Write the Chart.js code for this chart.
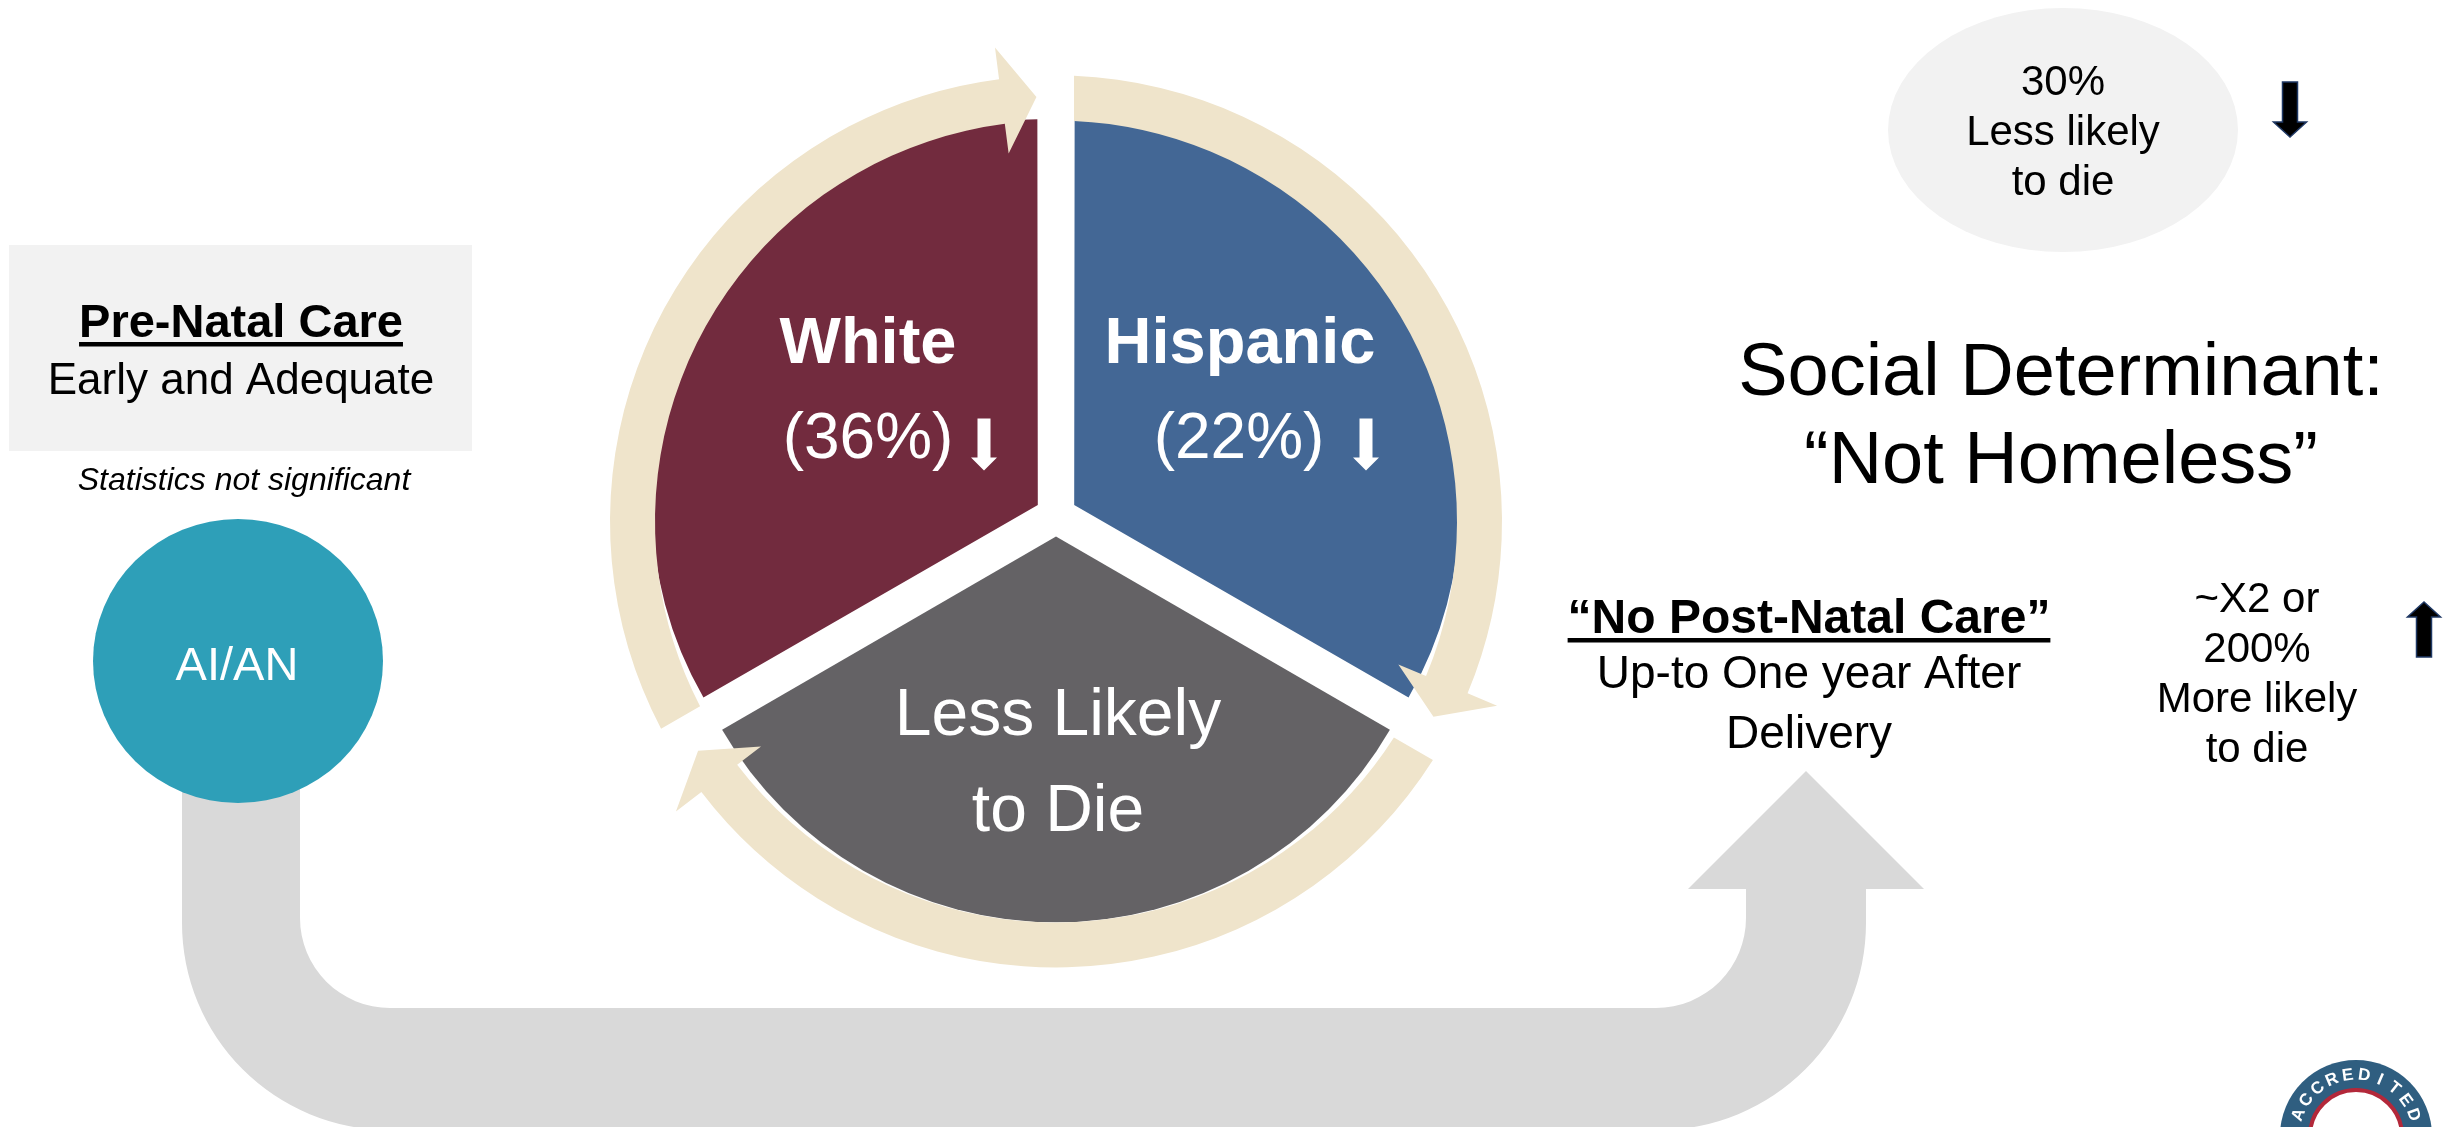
<!DOCTYPE html>
<html>
<head>
<meta charset="utf-8">
<script src="https://cdn.jsdelivr.net/npm/chart.js@4.4.1/dist/chart.umd.min.js"></script>
<style>
  html, body { margin: 0; padding: 0; background: #fff; overflow: hidden; }
  #wrap { position: relative; width: 2453px; height: 1127px; }
</style>
</head>
<body>
<div id="wrap"><canvas id="cycle"></canvas></div>
<script>
/* ================================
   Data
   ================================ */
const sliceLabels = ["White", "Hispanic", "Less Likely to Die"];
const sliceShares = [1, 1, 1];
const slicePercents = ["(36%)", "(22%)", ""];
const sliceColors = ["#722B3E", "#436795", "#646265"];

const preNatalLines = ["Pre-Natal Care", "Early and Adequate"];
const preNatalNote = "Statistics not significant";
const groupLabel = "AI/AN";
const homelessStat = ["30%", "Less likely", "to die"];
const determinantLines = ["Social Determinant:", "\u201CNot Homeless\u201D"];
const postNatalLines = ["\u201CNo Post-Natal Care\u201D", "Up-to One year After", "Delivery"];
const postNatalStat = ["~X2 or", "200%", "More likely", "to die"];

const FONT = "'Liberation Sans', Arial, sans-serif";
const CREAM = "#EFE4CB";

/* ================================
   Drawing helpers
   ================================ */
function text(ctx, str, x, y, size, opts = {}) {
  ctx.save();
  ctx.font = `${opts.style || ""} ${opts.weight || ""} ${size}px ${FONT}`;
  ctx.fillStyle = opts.color || "#000";
  ctx.textAlign = opts.align || "center";
  ctx.textBaseline = "alphabetic";
  ctx.fillText(str, x, y);
  if (opts.underline) {
    const w = ctx.measureText(str).width;
    ctx.fillRect(x - w / 2, y + 5, w, 4.5);
  }
  ctx.restore();
}

function arrow(ctx, x, yStart, yBase, yTip, shaftHalf, headHalf, fill, stroke) {
  ctx.save();
  ctx.beginPath();
  ctx.moveTo(x - shaftHalf, yStart);
  ctx.lineTo(x + shaftHalf, yStart);
  ctx.lineTo(x + shaftHalf, yBase);
  ctx.lineTo(x + headHalf, yBase);
  ctx.lineTo(x, yTip);
  ctx.lineTo(x - headHalf, yBase);
  ctx.lineTo(x - shaftHalf, yBase);
  ctx.closePath();
  ctx.fillStyle = fill;
  ctx.fill();
  if (stroke) {
    ctx.strokeStyle = stroke;
    ctx.lineWidth = 1.5;
    ctx.stroke();
  }
  ctx.restore();
}

function polar(cx, cy, a, r) {
  return [cx + Math.cos(a) * r, cy + Math.sin(a) * r];
}

// cream ring segment ending in an arrowhead, following one slice
function ringArrow(ctx, cx, cy, a0, a1) {
  const rIn = 401, rOut = 446, rMid = 425;
  const aBarb = a1 - 0.128;
  const aTip = a1 - 0.046;
  ctx.beginPath();
  ctx.arc(cx, cy, rOut, a0 + 18 / rOut, aBarb);
  ctx.lineTo(...polar(cx, cy, aBarb, rOut + 32));
  ctx.lineTo(...polar(cx, cy, aTip, rMid));
  ctx.lineTo(...polar(cx, cy, aBarb, rIn - 30));
  ctx.lineTo(...polar(cx, cy, aBarb, rIn));
  ctx.arc(cx, cy, rIn, aBarb, a0 + 18 / rIn, true);
  ctx.closePath();
  ctx.fill();
}

/* ================================
   Background shapes
   ================================ */
const backdropPlugin = {
  id: "backdrop",
  beforeDatasetsDraw(chart) {
    const ctx = chart.ctx;
    ctx.save();

    // big U-shaped arrow
    ctx.fillStyle = "#D9D9D9";
    ctx.beginPath();
    ctx.moveTo(182, 700);
    ctx.arcTo(182, 1130, 389, 1130, 207);
    ctx.arcTo(1866, 1130, 1866, 920, 207);
    ctx.lineTo(1866, 889);
    ctx.lineTo(1924, 889);
    ctx.lineTo(1806, 771);
    ctx.lineTo(1688, 889);
    ctx.lineTo(1746, 889);
    ctx.arcTo(1746, 1008, 1656, 1008, 90);
    ctx.arcTo(300, 1008, 300, 918, 90);
    ctx.lineTo(300, 700);
    ctx.closePath();
    ctx.fill();

    // pre-natal box
    ctx.fillStyle = "#F2F2F2";
    ctx.fillRect(9, 245, 463, 206);

    // AI/AN circle
    ctx.fillStyle = "#2E9FB8";
    ctx.beginPath();
    ctx.ellipse(238, 661, 145, 142, 0, 0, Math.PI * 2);
    ctx.fill();

    // homeless ellipse
    ctx.fillStyle = "#F2F2F2";
    ctx.beginPath();
    ctx.ellipse(2063, 130, 175, 122, 0, 0, Math.PI * 2);
    ctx.fill();

    // accreditation seal
    ctx.fillStyle = "#2F5E80";
    ctx.beginPath();
    ctx.arc(2356, 1136, 76, 0, Math.PI * 2);
    ctx.fill();
    ctx.fillStyle = "#fff";
    ctx.beginPath();
    ctx.arc(2356, 1136, 46, 0, Math.PI * 2);
    ctx.fill();
    ctx.strokeStyle = "#B3283A";
    ctx.lineWidth = 4;
    ctx.beginPath();
    ctx.arc(2356, 1136, 46, 0, Math.PI * 2);
    ctx.stroke();
    ctx.font = `bold 17px ${FONT}`;
    ctx.fillStyle = "#fff";
    ctx.textAlign = "center";
    ctx.textBaseline = "middle";
    const word = "ACCREDITED";
    const aStart = -Math.PI * 0.93, aEnd = -Math.PI * 0.07;
    for (let i = 0; i < word.length; i++) {
      const a = aStart + (aEnd - aStart) * (i + 0.5) / word.length;
      ctx.save();
      ctx.translate(2356 + Math.cos(a) * 61, 1136 + Math.sin(a) * 61);
      ctx.rotate(a + Math.PI / 2);
      ctx.fillText(word[i], 0, 0);
      ctx.restore();
    }

    ctx.restore();
  },

  afterDatasetsDraw(chart) {
    const ctx = chart.ctx;
    const arcs = chart.getDatasetMeta(0).data;
    const cx = arcs[0].x, cy = arcs[0].y;

    // cycle ring with arrowheads
    ctx.save();
    ctx.fillStyle = CREAM;
    arcs.forEach((arc) => ringArrow(ctx, cx, cy + 6, arc.startAngle, arc.endAngle));
    ctx.restore();

    // slice labels
    const white = { color: "#fff" };
    text(ctx, sliceLabels[0], cx - 188, cy - 153, 65, { ...white, weight: "bold" });
    text(ctx, slicePercents[0], cx - 188, cy - 58, 64, white);
    arrow(ctx, cx - 72, cy - 97, cy - 58, cy - 45, 6.5, 13, "#fff");

    text(ctx, sliceLabels[1], cx + 184, cy - 153, 65, { ...white, weight: "bold" });
    text(ctx, slicePercents[1], cx + 183, cy - 58, 64, white);
    arrow(ctx, cx + 310, cy - 97, cy - 58, cy - 45, 6.5, 13, "#fff");

    const third = sliceLabels[2].split(" ");
    text(ctx, third.slice(0, 2).join(" "), cx + 2, cy + 219, 66, white);
    text(ctx, third.slice(2).join(" "), cx + 2, cy + 315, 66, white);

    // left panel
    text(ctx, preNatalLines[0], 241, 337, 47, { weight: "bold", underline: true });
    text(ctx, preNatalLines[1], 241, 394, 44);
    text(ctx, preNatalNote, 244, 490, 32, { style: "italic" });
    text(ctx, groupLabel, 237, 680, 47, white);

    // top right
    homelessStat.forEach((s, i) => text(ctx, s, 2063, 95 + i * 50, 42));
    arrow(ctx, 2290, 82, 122, 137, 7.5, 16.5, "#000", "#1F3864");
    text(ctx, determinantLines[0], 2061, 395, 74);
    text(ctx, determinantLines[1], 2061, 483, 74);

    // post-natal
    text(ctx, postNatalLines[0], 1809, 633, 48, { weight: "bold", underline: true });
    text(ctx, postNatalLines[1], 1809, 688, 46);
    text(ctx, postNatalLines[2], 1809, 748, 46);
    postNatalStat.forEach((s, i) => text(ctx, s, 2257, 612 + i * 50, 42));
    arrow(ctx, 2424, 657, 617, 602, 7.5, 16.5, "#000", "#1F3864");
  }
};

/* ================================
   Chart
   ================================ */
const canvas = document.getElementById("cycle");
new Chart(canvas.getContext("2d"), {
  type: "pie",
  data: {
    labels: sliceLabels,
    datasets: [
      {
        data: sliceShares,
        backgroundColor: sliceColors,
        borderWidth: 0,
        offset: 84,
        radius: 383,
        rotation: -120
      }
    ]
  },
  options: {
    responsive: true,
    maintainAspectRatio: false,
    animation: false,
    events: [],
    layout: { padding: { left: 0, right: 341, top: 0, bottom: 96 } },
    plugins: {
      legend: { display: false },
      tooltip: { enabled: false }
    }
  },
  plugins: [backdropPlugin]
});
</script>
</body>
</html>
